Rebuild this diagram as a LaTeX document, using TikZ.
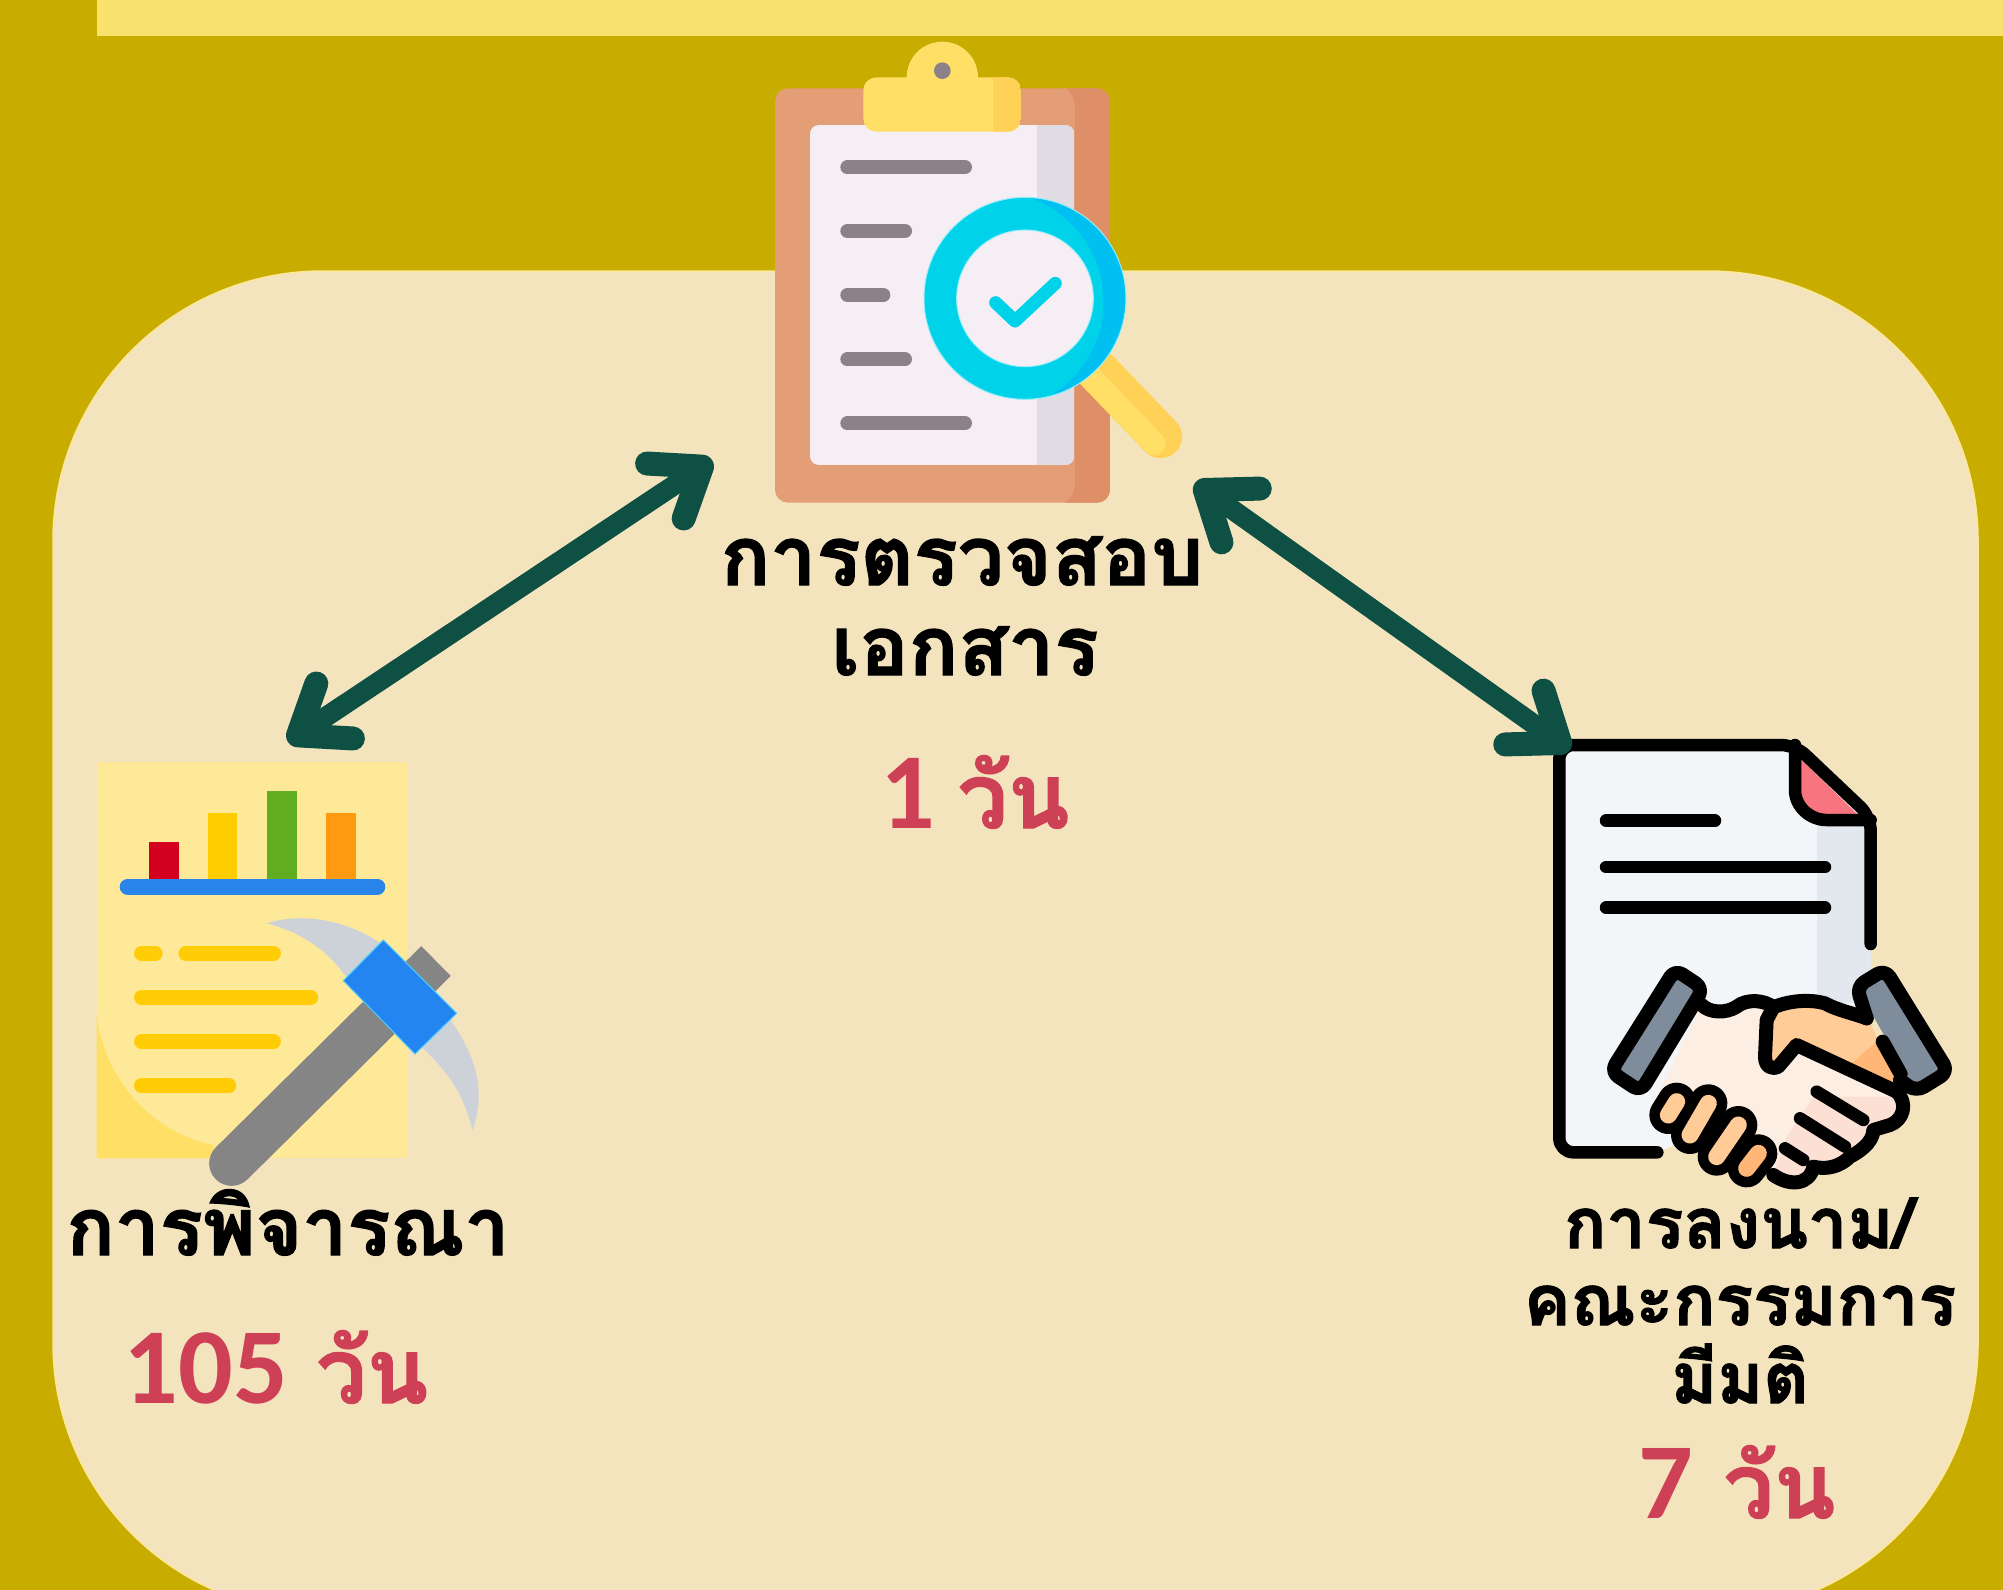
\documentclass[tikz,border=0pt]{standalone}
\usepackage{fontspec}
\usetikzlibrary{arrows.meta}
\newfontfamily\thaifont[Script=Thai,BoldFeatures={FakeBold=1.6}]{Loma}
\newfontfamily\numfont{Carlito}
\definecolor{gold}{HTML}{C9AC00}
\definecolor{band}{HTML}{F9E16E}
\definecolor{panel}{HTML}{F4E4BE}
\definecolor{panelline}{HTML}{FDE89A}
\definecolor{arrowgreen}{HTML}{0F5045}
\definecolor{redtext}{HTML}{CE4056}
\definecolor{yLight}{HTML}{FFDF66}
\definecolor{yDark}{HTML}{FFD257}
\definecolor{yText}{HTML}{FFCC05}
\definecolor{greyline}{HTML}{8C8089}
\definecolor{cyanA}{HTML}{00D2EA}
\definecolor{cyanB}{HTML}{00C0F2}
\definecolor{paperw}{HTML}{F5EEF4}
\definecolor{skinA}{HTML}{FDEEE3}
\definecolor{skinB}{HTML}{FDE0D4}
\definecolor{orA}{HTML}{FFCB96}
\definecolor{orB}{HTML}{FFB676}
\definecolor{cuff}{HTML}{7E8C9B}
\newcommand{\dayword}{{\fontsize{90}{100}\selectfont\thaifont\bfseries วัน}}
\tikzset{
  titletext/.style={anchor=base,inner sep=0pt,align=center,font=\thaifont\bfseries\fontsize{82}{90}\selectfont,text=black},
  widetitle/.style={anchor=base,inner sep=0pt,align=center,font=\thaifont\bfseries\fontsize{80}{88}\selectfont,text=black},
  smalltitle/.style={anchor=base,inner sep=0pt,align=center,font=\thaifont\bfseries\fontsize{70}{76}\selectfont,text=black},
  daytext/.style={anchor=base,inner sep=0pt,font=\numfont\bfseries\fontsize{108}{112}\selectfont,text=redtext},
  link/.style={draw=arrowgreen,line width=20pt,
    {Straight Barb[length=44pt,width=66pt,line width=24pt,round]}-{Straight Barb[length=44pt,width=66pt,line width=24pt,round]}},
  greybar/.style={draw=greyline,line width=14pt,line cap=round},
  yellowbar/.style={draw=yText,line width=14.5pt,line cap=round},
  inkline/.style={draw=black,line width=12.5pt,line cap=round,line join=round},
  zoomA/.style={shift={(740,20)},x=0.33333pt,y=-0.33333pt},
  zoomB/.style={shift={(60,740)},x=0.33333pt,y=-0.33333pt},
  zoomC/.style={shift={(1520,720)},x=0.33333pt,y=-0.33333pt},
}
\begin{document}
\begin{tikzpicture}[x=1pt,y=-1pt]
\useasboundingbox (0,0) rectangle (2003,1590);
\clip (0,0) rectangle (2003,1590);
\fill[gold] (0,0) rectangle (2003,1590);
\fill[band] (97,0) rectangle (2003,36);
\filldraw[fill=panel,draw=panelline,line width=1.5pt,rounded corners=270pt] (53,271) rectangle (1978,1613);

% clipboard
\begin{scope}[zoomA]
  \begin{scope}
    \clip[rounded corners=13pt] (105,205) rectangle (1110,1448);
    \fill[fill={rgb,255:red,228;green,158;blue,118}] (105,205) rectangle (1110,1448);
    \fill[fill={rgb,255:red,222;green,143;blue,104}] (975,205) .. controls (995,215) and (1005,240) .. (1005,270) -- (1005,1385) .. controls (1005,1415) and (995,1435) .. (975,1448) -- (1110,1448) -- (1110,205) -- cycle;
  \end{scope}
  \begin{scope}
    \clip[rounded corners=9pt] (210,315) rectangle (1003,1335);
    \fill[paperw] (210,315) rectangle (1003,1335);
    \fill[fill={rgb,255:red,223;green,220;blue,227}] (890,315) rectangle (1003,1335);
  \end{scope}
  \fill[yLight] (607,172) circle [radius=107];
  \begin{scope}
    \clip[rounded corners=13pt] (370,172) rectangle (843,335);
    \fill[yLight] (370,172) rectangle (843,335);
    \fill[yDark] (760,172) rectangle (843,335);
  \end{scope}
  \fill[greyline] (607,152) circle [radius=25];
  \draw[greybar] (322,442) -- (675,442);
  \draw[greybar] (322,633) -- (495,633);
  \draw[greybar] (322,825) -- (430,825);
  \draw[greybar] (322,1018) -- (495,1018);
  \draw[greybar] (322,1210) -- (675,1210);
  \draw[yDark,line width=43pt,line cap=round] (1060,1040) -- (1262,1250);
  \draw[yLight,line width=23pt,line cap=round] (1040,1060) -- (1242,1270);
  \begin{scope}
    \clip (855,835) circle [radius=303];
    \fill[cyanB] (855,835) circle [radius=303];
    \fill[cyanA] (760,845) circle [radius=330];
  \end{scope}
  \draw[white!60!cyanA,line width=1pt] (855,835) circle [radius=303];
  \filldraw[fill=paperw,draw=white!60!cyanA,line width=1pt] (855,835) circle [radius=205];
  \draw[cyanA,line width=13pt,line cap=round,line join=round] (767,848) -- (825,903) -- (946,790);
\end{scope}

% report with pickaxe
\begin{scope}[zoomB]
  \fill[fill={rgb,255:red,254;green,233;blue,153}] (110,65) rectangle (1042,1255);
  \fill[yLight] (110,820) .. controls (130,1020) and (280,1180) .. (460,1215) -- (460,1255) -- (110,1255) -- cycle;
  \fill[fill={rgb,255:red,212;green,0;blue,32}] (267,307) rectangle (357,425);
  \fill[fill={rgb,255:red,255;green,204;blue,0}] (443,220) rectangle (532,425);
  \fill[fill={rgb,255:red,96;green,174;blue,32}] (620,152) rectangle (710,425);
  \fill[fill={rgb,255:red,255;green,154;blue,16}] (798,220) rectangle (887,425);
  \draw[draw={rgb,255:red,42;green,133;blue,234},line width=16pt,line cap=round] (203,440) -- (952,440);
  \draw[yellowbar] (244,640) -- (286,640);
  \draw[yellowbar] (377,640) -- (641,640);
  \draw[yellowbar] (244,772) -- (753,772);
  \draw[yellowbar] (244,905) -- (641,905);
  \draw[yellowbar] (244,1037) -- (507,1037);
  \fill[fill={rgb,255:red,205;green,210;blue,216}] (620,550) .. controls (760,505) and (950,560) .. (1060,700) .. controls (1200,860) and (1300,1000) .. (1237,1170) .. controls (1210,1050) and (1150,985) .. (1090,925) -- (850,700) .. controls (800,630) and (720,575) .. (620,550) -- cycle;
  \draw[draw={rgb,255:red,133;green,133;blue,133},line width=42pt] (900,890) -- (1128,663);
  \draw[draw={rgb,255:red,133;green,133;blue,133},line width=45pt,line cap=round] (515,1270) -- (950,840);
  \filldraw[fill={rgb,255:red,36;green,133;blue,240},draw=white!60!blue!50!cyan,line width=1pt] (970,600) -- (1190,820) -- (1065,942) -- (850,722) -- cycle;
\end{scope}

% document with handshake
\begin{scope}[zoomC]
  \fill[fill={rgb,255:red,243;green,246;blue,249},rounded corners=14pt] (118,75) -- (825,75) -- (1052,290) -- (1052,850) -- (430,1297) -- (118,1297) -- cycle;
  \fill[fill={rgb,255:red,227;green,232;blue,239}] (890,300) -- (1052,300) -- (1052,850) -- (890,850) -- cycle;
  \fill[fill={rgb,255:red,248;green,116;blue,127}] (825,100) -- (1030,300) -- (920,300) .. controls (870,300) and (825,260) .. (825,210) -- cycle;
  \draw[inkline,rounded corners=14pt] (412,1297) -- (118,1297) -- (118,75) -- (825,75) -- (1052,290) -- (1052,672);
  \draw[inkline] (825,75) -- (825,210) .. controls (825,260) and (870,300) .. (920,300) -- (1052,300);
  \draw[inkline] (258,302) -- (585,302);
  \draw[inkline] (258,441) -- (915,441);
  \draw[inkline] (258,563) -- (915,563);
  % light hand
  \fill[skinA] (545,855) .. controls (570,880) and (620,880) .. (650,860) .. controls (680,835) and (735,840) .. (760,862) .. controls (800,845) and (860,835) .. (915,850) .. controls (950,870) and (1000,880) .. (1045,895) -- (1135,1115) .. controls (1165,1150) and (1150,1200) .. (1110,1215) -- (1060,1230) .. controls (1060,1270) and (1010,1300) .. (990,1310) .. controls (960,1340) and (920,1350) .. (880,1340) .. controls (870,1395) and (810,1400) .. (760,1365) -- (400,1150) -- cycle;
  \fill[skinB] (880,1130) -- (1130,1130) .. controls (1150,1190) and (1120,1205) .. (1060,1230) .. controls (1060,1270) and (1010,1300) .. (990,1310) .. controls (960,1340) and (920,1350) .. (880,1340) .. controls (870,1395) and (810,1400) .. (760,1365) -- (800,1250) -- cycle;
  % other hand
  \fill[orA] (745,900) .. controls (770,855) and (850,850) .. (915,855) .. controls (950,870) and (1000,880) .. (1045,895) -- (1140,1108) -- (830,975) -- (770,1045) .. controls (745,1045) and (735,1030) .. (735,1010) -- cycle;
  \fill[orB] (990,1035) -- (1075,960) -- (1140,1108) -- cycle;
  % fingers
  \draw[black,line width=38pt,line cap=round] (470,1145) -- (445,1185);
  \draw[black,line width=38pt,line cap=round] (565,1150) -- (510,1245);
  \draw[black,line width=38pt,line cap=round] (655,1215) -- (590,1310);
  \draw[black,line width=38pt,line cap=round] (715,1300) -- (680,1345);
  \draw[orA,line width=17pt,line cap=round] (470,1145) -- (445,1185);
  \draw[orA,line width=17pt,line cap=round] (565,1150) -- (510,1245);
  \draw[orA,line width=17pt,line cap=round] (655,1215) -- (590,1310);
  \draw[orB,line width=17pt,line cap=round] (715,1300) -- (680,1345);
  % cuffs
  \filldraw[fill=cuff,inkline,line width=14pt,rounded corners=9pt] (465,748) -- (550,805) -- (362,1115) -- (272,1055) -- cycle;
  \fill[cuff,rounded corners=9pt] (1095,748) -- (1010,800) -- (1188,1115) -- (1285,1055) -- cycle;
  \draw[inkline,line width=14pt,rounded corners=9pt] (1040,895) -- (1010,800) -- (1095,748) -- (1285,1055) -- (1188,1115) -- (1140,1080);
  \draw[inkline,line width=14pt] (1088,965) -- (1142,1062);
  % hand outlines
  \draw[inkline,line width=14pt] (545,855) .. controls (570,880) and (620,880) .. (650,860) .. controls (680,835) and (735,840) .. (760,862);
  \draw[inkline,line width=14pt] (760,862) .. controls (800,845) and (860,835) .. (915,850) .. controls (950,870) and (1000,880) .. (1040,895);
  \draw[inkline,line width=14pt] (760,862) -- (740,900) -- (735,1010) .. controls (735,1040) and (755,1050) .. (775,1040) -- (830,975) -- (1130,1115);
  \draw[inkline,line width=14pt] (1130,1115) .. controls (1165,1150) and (1150,1200) .. (1110,1215) -- (1060,1230) .. controls (1060,1270) and (1010,1300) .. (990,1310) .. controls (960,1340) and (920,1350) .. (880,1340) .. controls (870,1395) and (810,1400) .. (760,1365);
  \draw[inkline] (890,1115) -- (1030,1200);
  \draw[inkline] (840,1195) -- (975,1280);
  \draw[inkline] (795,1285) -- (850,1320);
\end{scope}

% connectors
\coordinate (reportEnd) at (288,742);
\coordinate (clipL) at (712,460);
\coordinate (clipR) at (1195,483);
\coordinate (docEnd) at (1570,750);
\draw[link] (reportEnd) -- (clipL);
\draw[link] (clipR) -- (docEnd);

% labels
\node[titletext] (checkA) at (962,585) {การตรวจสอบ};
\node[titletext] (checkB) at (965,675) {เอกสาร};
\node[daytext] (dayA) at (975,828) {1\hspace{22pt}\dayword};
\node[widetitle] (consider) at (288,1255) {การพิจารณา};
\node[daytext] (dayB) at (276,1403) {105\hspace{28pt}\dayword};
\node[smalltitle] (signA) at (1739,1248) {การลงนาม/};
\node[smalltitle] (signB) at (1740,1325) {คณะกรรมการ};
\node[smalltitle] (signC) at (1740,1403) {มีมติ};
\node[daytext] (dayC) at (1737,1518) {7\hspace{30pt}\dayword};
\end{tikzpicture}
\end{document}
